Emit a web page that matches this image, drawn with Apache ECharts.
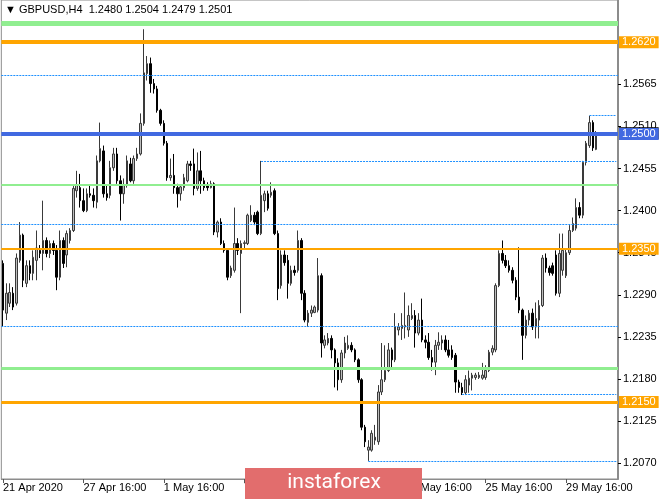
<!DOCTYPE html>
<html><head><meta charset="utf-8">
<script src="https://cdn.jsdelivr.net/npm/echarts@6/dist/echarts.min.js"></script>
<style>html,body{margin:0;padding:0;background:#fff;overflow:hidden}#c{width:665px;height:499px}</style>
</head><body><div id="c"></div>
<script>
// GBPUSD H4 candles
const open = [1.2331,1.2266,1.2279,1.2292,1.2279,1.2335,1.2368,1.2305,1.2328,1.2318,
1.2335,1.2348,1.2344,1.2361,1.2344,1.2357,1.2348,1.2313,1.2361,1.2342,
1.2361,1.2374,1.2426,1.2430,1.2413,1.2400,1.2422,1.2420,1.2411,1.2465,
1.2478,1.2422,1.2420,1.2456,1.2474,1.2439,1.2422,1.2433,1.2461,1.2439,
1.2468,1.2474,1.2514,1.2579,1.2592,1.2566,1.2559,1.2531,1.2514,1.2488,
1.2443,1.2446,1.2430,1.2422,1.2430,1.2439,1.2461,1.2461,1.2429,1.2452,
1.2439,1.2433,1.2430,1.2435,1.2372,1.2385,1.2357,1.2348,1.2315,1.2322,
1.2357,1.2344,1.2357,1.2357,1.2387,1.2394,1.2398,1.2370,1.2413,1.2422,
1.2420,1.2426,1.2370,1.2302,1.2342,1.2335,1.2305,1.2322,1.2322,1.2361,
1.2292,1.2254,1.2266,1.2267,1.2270,1.2315,1.2224,1.2227,1.2233,1.2218,
1.2201,1.2179,1.2214,1.2220,1.2224,1.2218,1.2205,1.2179,1.2117,1.2087,
1.2087,1.2100,1.2098,1.2163,1.2179,1.2191,1.2218,1.2205,1.2244,1.2246,
1.2248,1.2244,1.2259,1.2263,1.2240,1.2257,1.2231,1.2228,1.2208,1.2202,
1.2224,1.2227,1.2231,1.2218,1.2218,1.2211,1.2176,1.2169,1.2162,1.2172,
1.2181,1.2182,1.2182,1.2181,1.2182,1.2191,1.2215,1.2218,1.2302,1.2344,
1.2335,1.2328,1.2322,1.2309,1.2287,1.2270,1.2237,1.2257,1.2266,1.2248,
1.2257,1.2276,1.2338,1.2325,1.2328,1.2342,1.2292,1.2322,1.2315,1.2345,
1.2374,1.2377,1.2404,1.2394,1.2463,1.2485,1.2515,1.2480];
const close = [1.2270,1.2292,1.2293,1.2274,1.2338,1.2368,1.2309,1.2328,1.2318,1.2339,
1.2351,1.2344,1.2361,1.2344,1.2357,1.2348,1.2313,1.2361,1.2331,1.2370,
1.2374,1.2429,1.2433,1.2413,1.2400,1.2422,1.2420,1.2413,1.2465,1.2481,
1.2422,1.2417,1.2456,1.2474,1.2439,1.2422,1.2433,1.2465,1.2439,1.2468,
1.2474,1.2514,1.2580,1.2592,1.2566,1.2559,1.2531,1.2514,1.2488,1.2443,
1.2446,1.2430,1.2422,1.2431,1.2443,1.2461,1.2459,1.2429,1.2452,1.2439,
1.2430,1.2430,1.2435,1.2372,1.2385,1.2357,1.2348,1.2313,1.2325,1.2357,
1.2348,1.2357,1.2358,1.2394,1.2394,1.2385,1.2370,1.2420,1.2422,1.2403,
1.2424,1.2370,1.2298,1.2342,1.2332,1.2305,1.2322,1.2319,1.2361,1.2292,
1.2257,1.2266,1.2270,1.2274,1.2315,1.2227,1.2231,1.2233,1.2218,1.2201,
1.2179,1.2214,1.2227,1.2224,1.2218,1.2205,1.2179,1.2117,1.2098,1.2091,
1.2109,1.2104,1.2163,1.2179,1.2191,1.2218,1.2205,1.2248,1.2248,1.2250,
1.2250,1.2263,1.2263,1.2240,1.2257,1.2231,1.2228,1.2208,1.2202,1.2224,
1.2228,1.2231,1.2218,1.2211,1.2208,1.2176,1.2169,1.2162,1.2179,1.2181,
1.2185,1.2185,1.2185,1.2185,1.2191,1.2215,1.2220,1.2302,1.2344,1.2335,
1.2328,1.2322,1.2309,1.2287,1.2270,1.2237,1.2257,1.2266,1.2248,1.2259,
1.2276,1.2338,1.2325,1.2319,1.2318,1.2292,1.2344,1.2348,1.2345,1.2374,
1.2383,1.2404,1.2394,1.2463,1.2488,1.2515,1.2482,1.2501];
const low = [1.2248,1.2257,1.2274,1.2270,1.2276,1.2332,1.2300,1.2300,1.2309,1.2309,
1.2309,1.2338,1.2322,1.2339,1.2338,1.2342,1.2296,1.2309,1.2325,1.2326,
1.2357,1.2372,1.2417,1.2404,1.2398,1.2398,1.2417,1.2404,1.2403,1.2463,
1.2417,1.2413,1.2416,1.2452,1.2435,1.2387,1.2409,1.2430,1.2437,1.2435,
1.2465,1.2472,1.2511,1.2570,1.2554,1.2553,1.2528,1.2511,1.2485,1.2439,
1.2439,1.2422,1.2404,1.2413,1.2426,1.2437,1.2452,1.2420,1.2426,1.2422,
1.2426,1.2426,1.2429,1.2368,1.2365,1.2355,1.2345,1.2309,1.2312,1.2319,
1.2342,1.2266,1.2351,1.2355,1.2385,1.2381,1.2368,1.2368,1.2398,1.2400,
1.2417,1.2368,1.2283,1.2298,1.2328,1.2285,1.2302,1.2315,1.2319,1.2283,
1.2254,1.2248,1.2261,1.2266,1.2267,1.2208,1.2220,1.2224,1.2207,1.2169,
1.2165,1.2175,1.2207,1.2218,1.2215,1.2202,1.2175,1.2113,1.2091,1.2073,
1.2085,1.2094,1.2094,1.2159,1.2176,1.2189,1.2195,1.2202,1.2237,1.2231,
1.2233,1.2235,1.2257,1.2221,1.2237,1.2228,1.2220,1.2205,1.2191,1.2185,
1.2218,1.2218,1.2215,1.2208,1.2205,1.2162,1.2162,1.2159,1.2159,1.2162,
1.2165,1.2179,1.2180,1.2179,1.2179,1.2189,1.2211,1.2215,1.2300,1.2331,
1.2325,1.2319,1.2305,1.2283,1.2266,1.2205,1.2233,1.2250,1.2244,1.2233,
1.2233,1.2274,1.2319,1.2315,1.2315,1.2289,1.2287,1.2315,1.2312,1.2342,
1.2372,1.2374,1.2390,1.2390,1.2459,1.2482,1.2478,1.2479];
const high = [1.2335,1.2305,1.2305,1.2300,1.2344,1.2385,1.2370,1.2335,1.2335,1.2348,
1.2374,1.2355,1.2413,1.2365,1.2361,1.2361,1.2355,1.2374,1.2365,1.2374,
1.2377,1.2433,1.2452,1.2448,1.2429,1.2429,1.2433,1.2429,1.2472,1.2515,
1.2485,1.2433,1.2465,1.2482,1.2482,1.2446,1.2442,1.2472,1.2469,1.2472,
1.2482,1.2527,1.2637,1.2602,1.2600,1.2572,1.2563,1.2533,1.2518,1.2491,
1.2468,1.2474,1.2435,1.2434,1.2448,1.2465,1.2465,1.2481,1.2476,1.2478,
1.2443,1.2437,1.2439,1.2437,1.2387,1.2390,1.2361,1.2351,1.2328,1.2404,
1.2364,1.2361,1.2361,1.2396,1.2407,1.2398,1.2400,1.2465,1.2426,1.2426,
1.2437,1.2429,1.2374,1.2348,1.2348,1.2342,1.2328,1.2328,1.2374,1.2364,
1.2296,1.2270,1.2276,1.2276,1.2338,1.2318,1.2237,1.2240,1.2237,1.2220,
1.2207,1.2218,1.2235,1.2237,1.2228,1.2220,1.2207,1.2181,1.2120,1.2100,
1.2113,1.2120,1.2172,1.2227,1.2224,1.2227,1.2221,1.2266,1.2253,1.2266,
1.2293,1.2276,1.2279,1.2270,1.2266,1.2285,1.2237,1.2240,1.2218,1.2231,
1.2241,1.2237,1.2237,1.2231,1.2224,1.2214,1.2179,1.2175,1.2185,1.2191,
1.2188,1.2188,1.2189,1.2201,1.2198,1.2218,1.2224,1.2305,1.2348,1.2361,
1.2342,1.2335,1.2326,1.2313,1.2352,1.2272,1.2263,1.2270,1.2272,1.2280,
1.2283,1.2342,1.2344,1.2328,1.2332,1.2348,1.2370,1.2370,1.2351,1.2381,
1.2391,1.2416,1.2411,1.2465,1.2491,1.2524,1.2518,1.2504];

const timeLabels = ['21 Apr 2020','27 Apr 16:00','1 May 16:00','7 May 16:00','13 May 16:00','19 May 16:00','25 May 16:00','29 May 16:00'];
const barsPerLabel = 24;
const slotCount = 184; // bars + empty right margin
const yTicks = [1.2070,1.2125,1.2180,1.2235,1.2290,1.2345,1.2400,1.2455,1.2510,1.2565];
const orangeLevels = [1.2620, 1.2350, 1.2150];
const blueLevels = [1.2500];
const greenLevels = [1.2645, 1.2434, 1.2194];
const dashedLevels = [1.2577, 1.2382, 1.2249];
const rayStartBars = [77, 109, 137, 175];
const rayLevels = [1.2464, 1.2073, 1.2160, 1.2524];
const yMin = 1.20493, yMax = 1.26752;

const FONT = "'Liberation Sans', Arial, sans-serif";
const categories = [];
for (let i = 0; i < slotCount; i++) categories.push(String(i));
const candles = open.map((o, i) => [o, close[i], low[i], high[i]]);
const last = open.length - 1;

const orangeW = [4, 2, 3];
const greenW = [5, 2, 3];
const dash = {color: '#1E90FF', width: 1, type: [2, 1]};
function tag(v, bg) {
  return {show: true, position: 'end', distance: 1, formatter: v.toFixed(4), backgroundColor: bg,
    color: '#ffffff', padding: [1, 3, 0, 3], fontSize: 11, lineHeight: 11, fontFamily: FONT};
}
const mlData = [];
dashedLevels.forEach(v => mlData.push({yAxis: v, lineStyle: dash, label: {show: false}}));
rayLevels.forEach((v, k) => mlData.push([
  {xAxis: categories[rayStartBars[k]], yAxis: v, lineStyle: dash, label: {show: false}},
  {xAxis: categories[slotCount - 1], yAxis: v}
]));
greenLevels.forEach((v, k) => mlData.push({yAxis: v, lineStyle: {color: '#90EE90', width: greenW[k], type: 'solid'}, label: {show: false}}));
mlData.push({yAxis: close[last], lineStyle: {color: 'rgba(0,0,0,0)', width: 0}, label: tag(close[last], '#000000')});
orangeLevels.forEach((v, k) => mlData.push({yAxis: v, lineStyle: {color: '#FFA500', width: orangeW[k], type: 'solid'}, label: tag(v, '#FFA500')}));
blueLevels.forEach(v => mlData.push({yAxis: v, lineStyle: {color: '#4169E1', width: 4, type: 'solid'}, label: tag(v, '#4169E1')}));

const showIdx = (i) => i % barsPerLabel === 0 && (i / barsPerLabel) < timeLabels.length;

const chart = echarts.init(document.getElementById('c'));
chart.setOption({
  animation: false,
  backgroundColor: '#ffffff',
  grid: {left: 1, right: 47, top: -1, bottom: 20, show: true, borderColor: '#8c8c8c', borderWidth: 1, backgroundColor: 'transparent'},
  xAxis: {
    type: 'category', data: categories, boundaryGap: true,
    axisLine: {show: true, lineStyle: {color: '#8c8c8c', width: 1}},
    axisTick: {show: true, alignWithLabel: true, interval: (i) => showIdx(i), length: 4, lineStyle: {color: '#555555'}},
    axisLabel: {interval: (i) => showIdx(i), formatter: (v, i) => showIdx(i) ? timeLabels[i / barsPerLabel] : '',
      align: 'left', margin: 3, fontSize: 11, color: '#000000', fontFamily: FONT},
    splitLine: {show: false}
  },
  yAxis: {
    type: 'value', position: 'right', min: yMin, max: yMax, scale: true,
    axisLine: {show: true, lineStyle: {color: '#8c8c8c', width: 2}},
    axisTick: {show: true, customValues: yTicks, length: 3, lineStyle: {color: '#000000'}},
    axisLabel: {customValues: yTicks, formatter: (v) => Number(v).toFixed(4), margin: 5, fontSize: 11, color: '#000000', fontFamily: FONT},
    splitLine: {show: false}
  },
  series: [{
    type: 'candlestick', data: candles, barWidth: 2,
    itemStyle: {color: '#bdbdbd', color0: '#000000', borderColor: '#3a3a3a', borderColor0: '#000000', borderWidth: 1},
    emphasis: {disabled: true},
    markLine: {silent: true, symbol: ['none', 'none'], animation: false, precision: 4, emphasis: {disabled: true}, data: mlData}
  }],
  graphic: [
    {type: 'text', x: 5, y: 4, z: 50, style: {text: '\u25BC GBPUSD,H4  ' + open[last].toFixed(4) + ' ' + high[last].toFixed(4) + ' ' + low[last].toFixed(4) + ' ' + close[last].toFixed(4),
      font: '11px ' + FONT, fill: '#000000'}},
    {type: 'rect', x: 245, y: 468, z: 100, shape: {width: 177, height: 31}, style: {fill: '#e26d6d'}},
    {type: 'text', x: 334, y: 483, z: 101, style: {text: 'instaforex', font: '21px Roboto, sans-serif', fill: '#ffffff',
      textAlign: 'center', textVerticalAlign: 'middle', align: 'center', verticalAlign: 'middle'}}
  ]
});
</script></body></html>
